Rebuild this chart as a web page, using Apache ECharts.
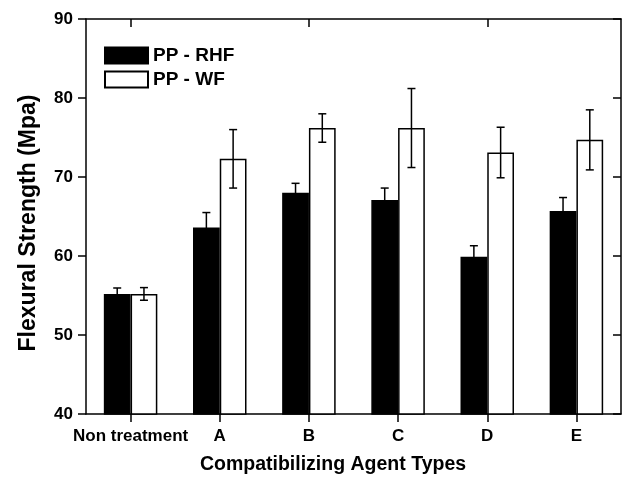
<!DOCTYPE html>
<html><head><meta charset="utf-8">
<script src="https://cdn.jsdelivr.net/npm/echarts@6/dist/echarts.min.js"></script>
<style>html,body{margin:0;padding:0;background:#fff}#c{width:632px;height:482px}</style>
</head><body><div id="c"></div>
<script>
const categories = ['Non treatment', 'A', 'B', 'C', 'D', 'E'];
const seriesNames = ['PP - RHF', 'PP - WF'];
const rhfValues = [55.2, 63.6, 68.0, 67.1, 59.9, 65.7];
const rhfErrors = [0.75, 1.9, 1.2, 1.5, 1.4, 1.7];
const wfValues = [55.2, 72.3, 76.2, 76.2, 73.1, 74.7];
const wfErrors = [0.8, 3.7, 1.8, 5.0, 3.2, 3.8];
const yMin = 40, yMax = 90, yInterval = 10;
const xTitle = 'Compatibilizing Agent Types';
const yTitle = 'Flexural Strength (Mpa)';

const FONT = '"Liberation Sans", Arial, Helvetica, sans-serif';
const chart = echarts.init(document.getElementById('c'), null, {renderer: 'canvas'});

function errData(vals, errs) {
  return vals.map((v, i) => [i, v - errs[i], v + errs[i]]);
}
function errSeries(vals, errs, sign) {
  return {
    type: 'custom',
    xAxisIndex: 0, yAxisIndex: 0,
    silent: true, z: 5,
    data: errData(vals, errs),
    renderItem: function (params, api) {
      const idx = api.value(0);
      const band = api.size([1, 0])[0];
      const off = band * 0.15 * sign;
      const lo = api.coord([idx, api.value(1)]);
      const hi = api.coord([idx, api.value(2)]);
      const x = lo[0] + off;
      const cap = 4;
      const st = {stroke: '#000', lineWidth: 1.5};
      return {
        type: 'group',
        children: [
          {type: 'line', shape: {x1: x, y1: lo[1], x2: x, y2: hi[1]}, style: st},
          {type: 'line', shape: {x1: x - cap, y1: lo[1], x2: x + cap, y2: lo[1]}, style: st},
          {type: 'line', shape: {x1: x - cap, y1: hi[1], x2: x + cap, y2: hi[1]}, style: st}
        ]
      };
    }
  };
}

const axisLine = {show: true, lineStyle: {color: '#000', width: 1.5}};
const option = {
  animation: false,
  backgroundColor: '#fff',
  textStyle: {fontFamily: FONT},
  grid: {left: 86, right: 11, top: 19, bottom: 68},
  legend: {
    orient: 'vertical', left: 104, top: 46, padding: 0,
    itemWidth: 43, itemHeight: 16, itemGap: 5,
    icon: 'rect',
    textStyle: {fontFamily: FONT, fontWeight: 'bold', fontSize: 19, color: '#000'},
    data: seriesNames
  },
  xAxis: [{
    type: 'category', data: categories, position: 'bottom',
    axisLine: axisLine,
    axisTick: {show: true, alignWithLabel: true, inside: false, length: 8, lineStyle: {color: '#000', width: 1.5}},
    axisLabel: {fontFamily: FONT, fontWeight: 'bold', fontSize: 17, color: '#000', margin: 14, interval: 0},
    splitLine: {show: false}
  }, {
    type: 'category', data: categories, position: 'top',
    axisLine: axisLine,
    axisTick: {show: true, alignWithLabel: true, inside: true, length: 8, lineStyle: {color: '#000', width: 1.5}},
    axisLabel: {show: false},
    splitLine: {show: false}
  }],
  yAxis: [{
    type: 'value', min: yMin, max: yMax, interval: yInterval, position: 'left',
    axisLine: axisLine,
    axisTick: {show: true, inside: false, length: 8, lineStyle: {color: '#000', width: 1.5}},
    axisLabel: {fontFamily: FONT, fontWeight: 'bold', fontSize: 17, color: '#000', margin: 13},
    splitLine: {show: false}
  }, {
    type: 'value', min: yMin, max: yMax, interval: yInterval, position: 'right',
    axisLine: axisLine,
    axisTick: {show: true, inside: true, length: 8, lineStyle: {color: '#000', width: 1.5}},
    axisLabel: {show: false},
    splitLine: {show: false}
  }],
  graphic: [{
    type: 'text', x: 333, y: 465,
    style: {text: xTitle, font: 'bold 19.5px ' + FONT, fill: '#000', align: 'center', verticalAlign: 'middle'}
  }, {
    type: 'text', x: 29, y: 223, rotation: Math.PI / 2,
    style: {text: yTitle, font: 'bold 23px ' + FONT, fill: '#000', align: 'center', verticalAlign: 'middle'}
  }],
  series: [{
    name: seriesNames[0], type: 'bar', data: rhfValues,
    barWidth: '30%', barGap: '0%',
    itemStyle: {color: '#000', borderColor: '#000', borderWidth: 1.5}
  }, {
    name: seriesNames[1], type: 'bar', data: wfValues,
    barWidth: '30%', barGap: '0%',
    itemStyle: {color: '#fff', borderColor: '#000', borderWidth: 1.5}
  },
  errSeries(rhfValues, rhfErrors, -1),
  errSeries(wfValues, wfErrors, 1)]
};
chart.setOption(option);
</script>
</body></html>
